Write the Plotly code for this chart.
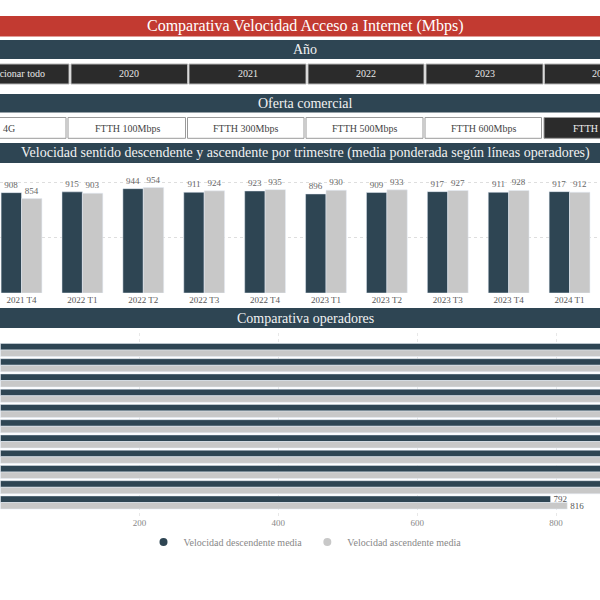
import plotly.graph_objects as go

# ---------------- data ----------------
quarters = ["2021 T4", "2022 T1", "2022 T2", "2022 T3", "2022 T4",
            "2023 T1", "2023 T2", "2023 T3", "2023 T4", "2024 T1"]
desc_q = [908, 915, 944, 911, 923, 896, 909, 917, 911, 917]
asc_q = [854, 903, 954, 924, 935, 930, 933, 927, 928, 912]

operators = ["Movistar", "Vodafone", "Orange", "Digi", "Jazztel", "MásMóvil",
             "Yoigo", "Lowi", "Pepephone", "Simyo", "O2"]
desc_op = [935, 930, 926, 922, 919, 915, 912, 908, 903, 898, 792]
asc_op = [948, 942, 938, 934, 930, 927, 922, 918, 912, 906, 816]

years = ["Seleccionar todo", "2020", "2021", "2022", "2023", "2024"]
offers = ["4G", "FTTH 100Mbps", "FTTH 300Mbps", "FTTH 500Mbps", "FTTH 600Mbps", "FTTH 1000Mbps"]

title = "Comparativa Velocidad Acceso a Internet (Mbps)"
series_names = ["Velocidad descendente media", "Velocidad ascendente media"]

# ---------------- style ----------------
DARK = "#2e4553"
LIGHT = "#c8c8c8"
RED = "#c23a31"
BTN = "#2b2b2b"
FONT = "Liberation Serif"
W, H = 600, 600
OP_XMAX = 863.2


def X(px):
    return px / W


def Y(py):
    return 1 - py / H


def visible_labels(vals):
    # labels of bars running past the visible axis end are off-page in the reference
    return [str(v) if v < OP_XMAX - 40 else "" for v in vals]


fig = go.Figure()

# quarterly chart
fig.add_trace(go.Bar(x=quarters, y=desc_q, marker_color=DARK, width=0.335, offset=-0.335,
                     text=desc_q, textposition="outside", cliponaxis=False, constraintext="none",
                     textfont=dict(size=9, color="#666", family=FONT),
                     showlegend=False, xaxis="x", yaxis="y", name=series_names[0]))
fig.add_trace(go.Bar(x=quarters, y=asc_q, marker_color=LIGHT, width=0.335, offset=0,
                     text=asc_q, textposition="outside", cliponaxis=False, constraintext="none",
                     textfont=dict(size=9, color="#666", family=FONT),
                     showlegend=False, xaxis="x", yaxis="y", name=series_names[1]))

# operators chart
fig.add_trace(go.Bar(y=operators, x=desc_op, orientation="h", marker_color=DARK,
                     width=0.43, offset=-0.43, text=visible_labels(desc_op),
                     textposition="outside", constraintext="none",
                     textfont=dict(size=9, color="#555", family=FONT),
                     showlegend=False, xaxis="x2", yaxis="y2", name=series_names[0]))
fig.add_trace(go.Bar(y=operators, x=asc_op, orientation="h", marker_color=LIGHT,
                     width=0.43, offset=0, text=visible_labels(asc_op),
                     textposition="outside", constraintext="none",
                     textfont=dict(size=9, color="#555", family=FONT),
                     showlegend=False, xaxis="x2", yaxis="y2", name=series_names[1]))

# legend entries (circle markers)
for nm, col in zip(series_names, [DARK, LIGHT]):
    fig.add_trace(go.Scatter(x=[None], y=[None], mode="markers", name=nm,
                             marker=dict(symbol="circle", size=8, color=col),
                             xaxis="x2", yaxis="y2"))

shapes = []
annotations = []


def bar_header(y0, y1, color, text, size, tcolor="#f2f2f2"):
    shapes.append(dict(type="rect", xref="paper", yref="paper", x0=X(-5), x1=X(605),
                       y0=Y(y1), y1=Y(y0), fillcolor=color, line=dict(width=0), layer="below"))
    annotations.append(dict(xref="paper", yref="paper", x=X(305), y=Y((y0 + y1) / 2),
                            text=text, showarrow=False, xanchor="center", yanchor="middle",
                            font=dict(family=FONT, size=size, color=tcolor)))


bar_header(16, 36.5, RED, title, 16, "#ffffff")
bar_header(40, 59, DARK, "Año", 14)
bar_header(94, 112.5, DARK, "Oferta comercial", 14)
bar_header(143, 163, DARK,
           "Velocidad sentido descendente y ascendente por trimestre (media ponderada según líneas operadores)", 14)
bar_header(308, 328, DARK, "Comparativa operadores", 14)

# year buttons
year_boxes = [(-47, 69), (71, 187.5), (189, 306), (308, 424), (426, 543), (544.5, 661)]
year_text_x = [11, 129, 247.5, 366, 484.5, 602]
for (a, b), tx, lab in zip(year_boxes, year_text_x, years):
    shapes.append(dict(type="rect", xref="paper", yref="paper", x0=X(a), x1=X(b),
                       y0=Y(84), y1=Y(64), fillcolor=BTN, line=dict(width=1, color="#b5b5b5"),
                       layer="below"))
    annotations.append(dict(xref="paper", yref="paper", x=X(tx), y=Y(74), text=lab,
                            showarrow=False, xanchor="center", yanchor="middle",
                            font=dict(family=FONT, size=10, color="#e8e8e8")))

# offer buttons
offer_boxes = [(-49, 66), (68, 185.5), (187.5, 304), (306, 423), (425, 541.5), (544, 661)]
offer_text_x = [8.5, 127, 246, 364.5, 483, 608]
for i, ((a, b), tx, lab) in enumerate(zip(offer_boxes, offer_text_x, offers)):
    sel = i == len(offers) - 1
    shapes.append(dict(type="rect", xref="paper", yref="paper", x0=X(a), x1=X(b),
                       y0=Y(138.3), y1=Y(117.5), fillcolor=BTN if sel else "#ffffff",
                       line=dict(width=1, color="#9a9a9a"), layer="below"))
    annotations.append(dict(xref="paper", yref="paper", x=X(tx), y=Y(128), text=lab,
                            showarrow=False, xanchor="center", yanchor="middle",
                            font=dict(family=FONT, size=10, color="#f0f0f0" if sel else "#444")))

fig.update_layout(
    width=W, height=H, autosize=False,
    margin=dict(l=0, r=0, t=0, b=0),
    paper_bgcolor="white", plot_bgcolor="white",
    font=dict(family=FONT, color="#666"),
    barmode="overlay",
    shapes=shapes, annotations=annotations,
    xaxis=dict(domain=[0, 1], type="category", range=[-0.353, 9.5], showgrid=False,
               showline=False, zeroline=False, ticks="", anchor="y",
               tickfont=dict(size=9, color="#555", family=FONT)),
    yaxis=dict(domain=[Y(293), Y(165)], range=[0, 1158], showticklabels=False,
               showgrid=True, gridcolor="#dedede", griddash="dot", dtick=500,
               zeroline=False, anchor="x"),
    xaxis2=dict(domain=[0, 1], range=[-0.7, OP_XMAX], dtick=200, anchor="y2",
                showgrid=True, gridcolor="#e8e8e8", griddash="dot", zeroline=False,
                showline=False, ticks="", tickfont=dict(size=9, color="#888", family=FONT)),
    yaxis2=dict(domain=[Y(516), Y(333)], type="category", range=[10.885, -1.115],
                showticklabels=False, showgrid=False, zeroline=False, anchor="x2"),
    legend=dict(orientation="h", x=X(305), xanchor="center", y=Y(542), yanchor="middle",
                font=dict(size=10, color="#888", family=FONT), bgcolor="rgba(0,0,0,0)",
                itemwidth=30),
)

fig.write_html("out.html", config={"displayModeBar": False},
               post_script="document.body.style.margin='0';document.body.style.overflow='hidden';")
